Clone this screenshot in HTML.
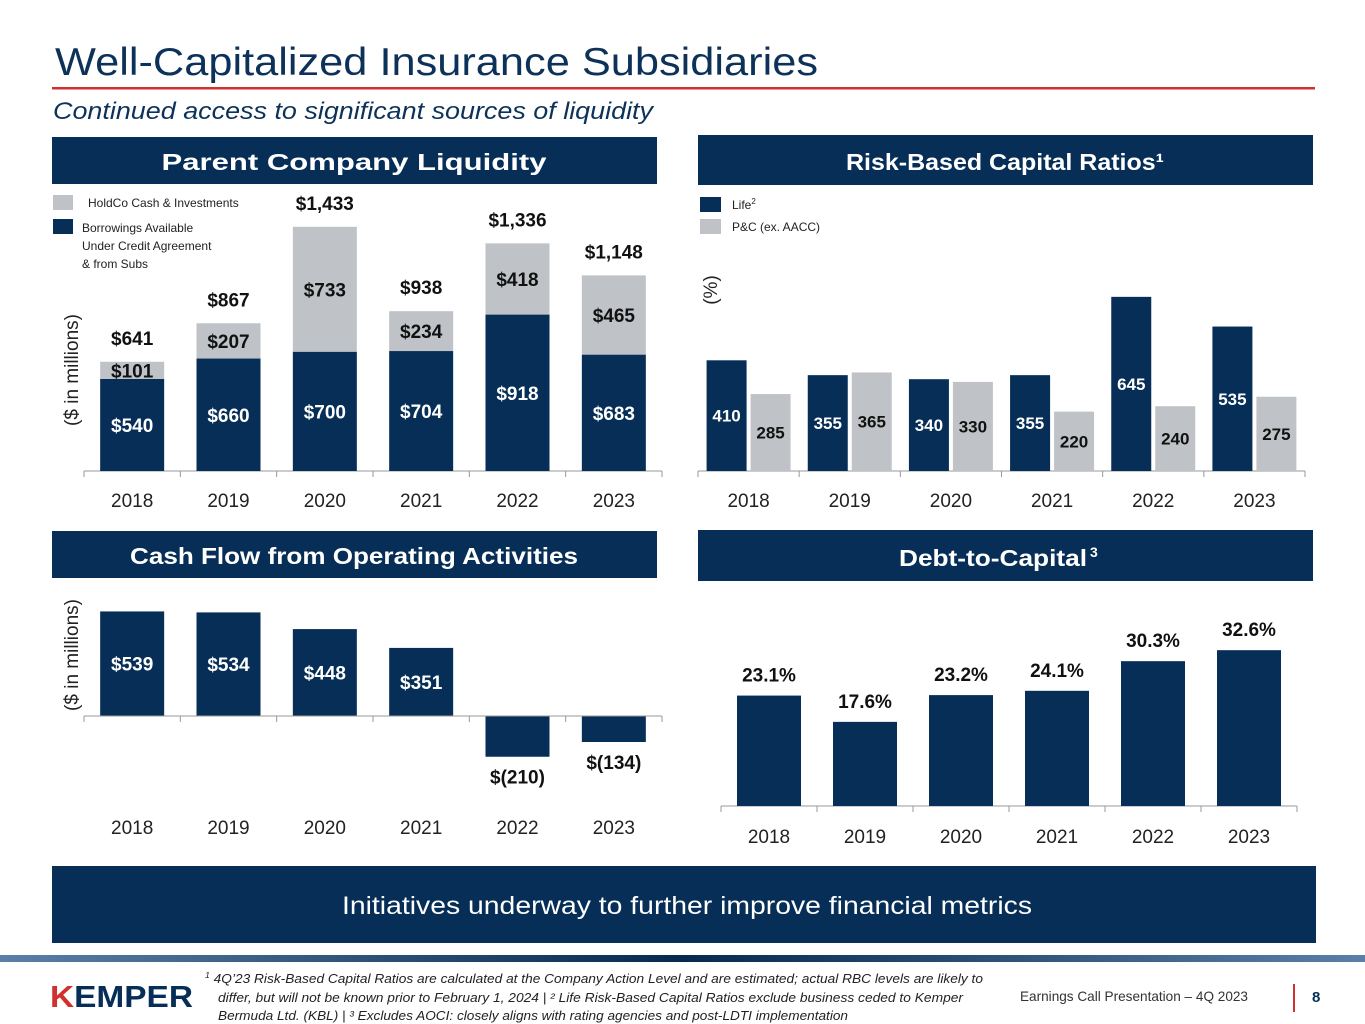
<!DOCTYPE html>
<html><head><meta charset="utf-8"><style>
html,body{margin:0;padding:0;background:#fff;}
svg{display:block;font-family:"Liberation Sans",Arial,sans-serif;}
</style></head><body>
<svg id="s" width="1365" height="1024" viewBox="0 0 1365 1024" xmlns="http://www.w3.org/2000/svg">
<defs><linearGradient id="fg" x1="0" x2="1" y1="0" y2="0"><stop offset="0" stop-color="#5b7fa6"/><stop offset="0.5" stop-color="#06294f"/><stop offset="1" stop-color="#5b7fa6"/></linearGradient></defs>
<text x="55" y="75" font-size="39" fill="#0d3259" textLength="763" lengthAdjust="spacingAndGlyphs">Well-Capitalized Insurance Subsidiaries</text>
<rect x="52" y="87" width="1263" height="2.5" fill="#d0312d"/>
<text x="53" y="119" font-size="24" font-style="italic" fill="#0d3259" textLength="600" lengthAdjust="spacingAndGlyphs">Continued access to significant sources of liquidity</text>

<g><rect x="52" y="137" width="605" height="47" fill="#062e57"/><text x="354" y="170" font-size="23" font-weight="bold" fill="#fff" text-anchor="middle" textLength="385" lengthAdjust="spacingAndGlyphs">Parent Company Liquidity</text></g>
<g><rect x="698" y="135" width="615" height="50" fill="#062e57"/><text x="1005" y="170" font-size="23" font-weight="bold" fill="#fff" text-anchor="middle" textLength="318" lengthAdjust="spacingAndGlyphs">Risk-Based Capital Ratios¹</text></g>
<g><rect x="52" y="531" width="605" height="47" fill="#062e57"/><text x="354" y="564" font-size="23" font-weight="bold" fill="#fff" text-anchor="middle" textLength="448" lengthAdjust="spacingAndGlyphs">Cash Flow from Operating Activities</text></g>
<g><rect x="698" y="530" width="615" height="51" fill="#062e57"/><text x="993" y="566" font-size="23" font-weight="bold" fill="#fff" text-anchor="middle" textLength="188" lengthAdjust="spacingAndGlyphs">Debt-to-Capital</text><text x="1090" y="557" font-size="14" font-weight="bold" fill="#fff">3</text></g>

<g id="c1"></g>
<g id="c2"></g>
<g id="c3"></g>
<g id="c4"></g>

<g>
<rect x="53" y="195" width="20" height="15" fill="#bfc3c7"/><text x="88" y="207" font-size="12" fill="#222">HoldCo Cash &amp; Investments</text>
<rect x="53" y="219" width="20" height="15" fill="#062e57"/><text x="82" y="232" font-size="12" fill="#222">Borrowings Available</text><text x="82" y="250" font-size="12" fill="#222">Under Credit Agreement</text><text x="82" y="268" font-size="12" fill="#222">&amp; from Subs</text>
</g>
<text transform="translate(78,370) rotate(-90)" font-size="19" fill="#222" text-anchor="middle">($ in millions)</text>
<g>
<rect x="700" y="197" width="21" height="15" fill="#062e57"/><text x="732" y="209" font-size="12" fill="#222">Life<tspan font-size="8" dy="-5">2</tspan></text>
<rect x="700" y="219" width="21" height="15" fill="#bfc3c7"/><text x="732" y="231" font-size="12" fill="#222">P&amp;C (ex. AACC)</text>
</g>
<text transform="translate(717,290) rotate(-90)" font-size="19" fill="#222" text-anchor="middle">(%)</text>
<text transform="translate(78,655) rotate(-90)" font-size="19" fill="#222" text-anchor="middle">($ in millions)</text>

<g><rect x="52" y="866" width="1264" height="77" fill="#062e57"/><text x="687" y="914" font-size="25" fill="#fff" text-anchor="middle" textLength="690" lengthAdjust="spacingAndGlyphs">Initiatives underway to further improve financial metrics</text></g>

<rect x="0" y="955" width="1365" height="7" fill="url(#fg)"/>
<g><text x="50" y="1007" font-size="31" font-weight="bold" fill="#062e57" textLength="143" lengthAdjust="spacingAndGlyphs"><tspan fill="#d0312d">K</tspan>EMPER</text></g>
<g font-size="12.5" font-style="italic" fill="#222">
<text x="205" y="983" textLength="778" lengthAdjust="spacingAndGlyphs"><tspan font-size="8" dy="-5">1</tspan><tspan dy="5"> 4Q’23 Risk-Based Capital Ratios are calculated at the Company Action Level and are estimated; actual RBC levels are likely to</tspan></text>
<text x="218" y="1002" textLength="745" lengthAdjust="spacingAndGlyphs">differ, but will not be known prior to February 1, 2024 | ² Life Risk-Based Capital Ratios exclude business ceded to Kemper</text>
<text x="218" y="1020" textLength="630" lengthAdjust="spacingAndGlyphs">Bermuda Ltd. (KBL) | ³ Excludes AOCI: closely aligns with rating agencies and post-LDTI implementation</text>
</g>
<text x="1020" y="1001" font-size="14" fill="#333" textLength="228" lengthAdjust="spacingAndGlyphs">Earnings Call Presentation – 4Q 2023</text>
<rect x="1293" y="984" width="2" height="28" fill="#d0312d"/>
<text x="1312" y="1002" font-size="15" font-weight="bold" fill="#062e57">8</text>
</svg>
<script>
const years = ["2018","2019","2020","2021","2022","2023"];
const borrowings = [540,660,700,704,918,683];
const holdcoCash = [101,207,733,234,418,465];
const liquidityTotals = ["$641","$867","$1,433","$938","$1,336","$1,148"];
const lifeRbc = [410,355,340,355,645,535];
const pcRbc = [285,365,330,220,240,275];
const cashFlow = [539,534,448,351,-210,-134];
const cashFlowLabels = ["$539","$534","$448","$351","$(210)","$(134)"];
const debtToCapital = [23.1,17.6,23.2,24.1,30.3,32.6];

const NS="http://www.w3.org/2000/svg";
const NAVY="#062e57", GRAY="#bfc3c7";
function mk(parent,tag,attrs,txt){const e=document.createElementNS(NS,tag);for(const k in attrs)e.setAttribute(k,attrs[k]);if(txt!==undefined)e.textContent=txt;parent.appendChild(e);return e;}
function axis(g,x0,x1,y,n,labelY){
  const a=mk(g,"line",{x1:x0,x2:x1,y1:y,y2:y,stroke:"#999","stroke-width":1});
  
  
  const w=(x1-x0)/n;
  for(let i=0;i<=n;i++){const t=mk(g,"line",{x1:x0+i*w,x2:x0+i*w,y1:y,y2:y+6,stroke:"#999"});
    
    }
  years.forEach((yr,i)=>{const t=mk(g,"text",{x:x0+(i+.5)*w,y:labelY,"font-size":19,fill:"#222","text-anchor":"middle"},yr);
    
    });
  return w;
}
// Chart 1
(function(){
  const g=document.getElementById("c1");
  const x0=84,x1=662,base=471,k=0.1704,bw=64;
  const w=axis(g,x0,x1,base,6,507);
  years.forEach((yr,i)=>{
    const cx=x0+(i+.5)*w;
    const hb=borrowings[i]*k, hc=holdcoCash[i]*k;
    const b=mk(g,"rect",{x:cx-bw/2,y:base-hb,width:bw,height:hb,fill:NAVY});
    
    
    const c=mk(g,"rect",{x:cx-bw/2,y:base-hb-hc,width:bw,height:hc,fill:GRAY});
    
    
    const t1=mk(g,"text",{x:cx,y:base-hb/2+7,"font-size":19,"font-weight":"bold",fill:"#fff","text-anchor":"middle"},"$"+borrowings[i]);
    
    
    const t2=mk(g,"text",{x:cx,y:base-hb-hc/2+7,"font-size":19,"font-weight":"bold",fill:"#111","text-anchor":"middle"},"$"+holdcoCash[i]);
    
    
    const t3=mk(g,"text",{x:cx,y:base-hb-hc-17,"font-size":19,"font-weight":"bold",fill:"#111","text-anchor":"middle"},liquidityTotals[i]);
    
    
  });
})();
// Chart 2
(function(){
  const g=document.getElementById("c2");
  const x0=698,x1=1305,base=471,k=0.27,bw=40;
  const w=axis(g,x0,x1,base,6,507);
  years.forEach((yr,i)=>{
    const cx=x0+(i+.5)*w;
    const hl=lifeRbc[i]*k, hp=pcRbc[i]*k;
    const l=mk(g,"rect",{x:cx-bw-2,y:base-hl,width:bw,height:hl,fill:NAVY});
    
    
    const p=mk(g,"rect",{x:cx+2,y:base-hp,width:bw,height:hp,fill:GRAY});
    
    
    const t1=mk(g,"text",{x:cx-bw/2-2,y:base-hl/2+6,"font-size":17,"font-weight":"bold",fill:"#fff","text-anchor":"middle"},lifeRbc[i]);
    
    
    const t2=mk(g,"text",{x:cx+bw/2+2,y:base-hp/2+6,"font-size":17,"font-weight":"bold",fill:"#111","text-anchor":"middle"},pcRbc[i]);
    
    
  });
})();
// Chart 3
(function(){
  const g=document.getElementById("c3");
  const x0=84,x1=662,zero=716,k=0.194,bw=64;
  const w=axis(g,x0,x1,zero,6,834);
  years.forEach((yr,i)=>{
    const cx=x0+(i+.5)*w, v=cashFlow[i], h=Math.abs(v)*k;
    const r=mk(g,"rect",{x:cx-bw/2,y:v>=0?zero-h:zero,width:bw,height:h,fill:NAVY});
    
    
    const t=v>=0?mk(g,"text",{x:cx,y:zero-h/2+7,"font-size":19,"font-weight":"bold",fill:"#fff","text-anchor":"middle"},cashFlowLabels[i])
               :mk(g,"text",{x:cx,y:zero+h+27,"font-size":19,"font-weight":"bold",fill:"#111","text-anchor":"middle"},cashFlowLabels[i]);
    
    
  });
  g.appendChild(g.firstChild);
})();
// Chart 4
(function(){
  const g=document.getElementById("c4");
  const x0=721,x1=1297,base=806,k=4.78,bw=64;
  const w=axis(g,x0,x1,base,6,843);
  years.forEach((yr,i)=>{
    const cx=x0+(i+.5)*w, h=debtToCapital[i]*k;
    const r=mk(g,"rect",{x:cx-bw/2,y:base-h,width:bw,height:h,fill:NAVY});
    
    
    const t=mk(g,"text",{x:cx,y:base-h-14,"font-size":19,"font-weight":"bold",fill:"#111","text-anchor":"middle"},debtToCapital[i].toFixed(1)+"%");
    
    
  });
})();
</script>
</body></html>
